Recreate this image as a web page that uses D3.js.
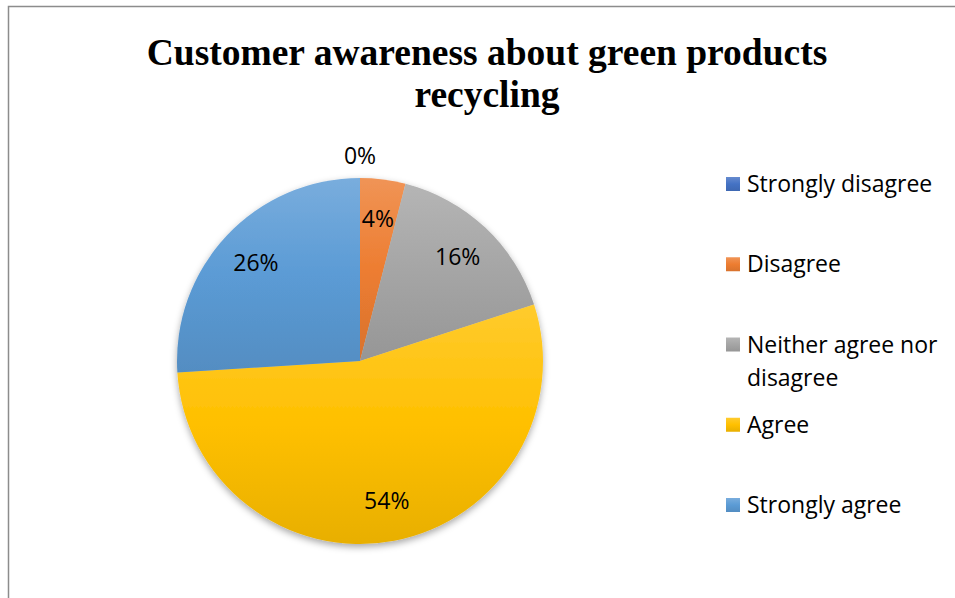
<!DOCTYPE html>
<html>
<head>
<meta charset="utf-8">
<script src="https://cdn.jsdelivr.net/npm/d3@7"></script>
<style>
  html, body { margin: 0; padding: 0; background: #fff; }
  svg { display: block; }
</style>
</head>
<body>
<svg id="chart" width="955" height="598"></svg>
<script>
// Survey answers (respondent counts) in the order they are drawn, clockwise from 12 o'clock
const categories = ["Strongly disagree", "Disagree", "Neither agree nor disagree", "Agree", "Strongly agree"];
const counts = [0, 2, 8, 27, 13];
const percentLabels = ["0%", "4%", "16%", "54%", "26%"];
const legendLines = [["Strongly disagree"], ["Disagree"], ["Neither agree nor", "disagree"], ["Agree"], ["Strongly agree"]];
const colors = ["#4472C4", "#ED7D31", "#A5A5A5", "#FFC000", "#5B9BD5"];
const titleLines = ["Customer awareness about green products", "recycling"];

const svg = d3.select("#chart");
const W = 955, H = 598;
const labelFont = "'Open Sans', 'Noto Sans', sans-serif";

// chart frame (only top and left edges fall inside the view)
svg.append("path")
  .attr("d", `M8.5,${H} V6.5 H${W}`)
  .attr("fill", "none")
  .attr("stroke", "#8c8c8c")
  .attr("stroke-width", 1.5);

// title
const title = svg.append("text")
  .attr("text-anchor", "middle")
  .attr("font-family", "'Liberation Serif', 'Times New Roman', serif")
  .attr("font-weight", "bold")
  .attr("font-size", 37.5)
  .attr("fill", "#000");
titleLines.forEach((t, i) => {
  title.append("tspan").attr("x", 487).attr("y", 65 + i * 42).text(t);
});

const defs = svg.append("defs");

// vertical gradient per series: lighter tint on top, base tone mid, deeper shade at bottom
colors.forEach((c, i) => {
  const g = defs.append("linearGradient")
    .attr("id", "grad" + i)
    .attr("x1", 0).attr("y1", 0).attr("x2", 0).attr("y2", 1);
  g.append("stop").attr("offset", "0%").attr("stop-color", d3.interpolateRgb(c, "#fff")(0.18));
  g.append("stop").attr("offset", "50%").attr("stop-color", c);
  g.append("stop").attr("offset", "100%").attr("stop-color", d3.interpolateRgb(c, "#000")(0.09));
});

const shadow = defs.append("filter")
  .attr("id", "shadow")
  .attr("x", "-10%").attr("y", "-10%").attr("width", "120%").attr("height", "125%");
shadow.append("feDropShadow")
  .attr("dx", 0).attr("dy", 3)
  .attr("stdDeviation", 3.5)
  .attr("flood-color", "#000")
  .attr("flood-opacity", 0.35);

// pie
const cx = 360, cy = 361, R = 183;
const pie = d3.pie().sort(null).value(d => d)(counts);
const arc = d3.arc().innerRadius(0).outerRadius(R);

const pieG = svg.append("g").attr("transform", `translate(${cx},${cy})`);
pieG.append("g")
  .attr("filter", "url(#shadow)")
  .selectAll("path")
  .data(pie)
  .join("path")
  .attr("d", arc)
  .attr("fill", (d, i) => `url(#grad${i})`);

// data labels: inside the slice, or just above the rim when the slice is empty
const labelArc = d3.arc().innerRadius(R * 0.78).outerRadius(R * 0.78);
const outerArc = d3.arc().innerRadius(R + 22).outerRadius(R + 22);
pieG.append("g")
  .selectAll("text")
  .data(pie)
  .join("text")
  .attr("transform", d => {
    const p = (d.endAngle - d.startAngle) === 0 ? outerArc.centroid(d) : labelArc.centroid(d);
    return `translate(${p[0]},${p[1]})`;
  })
  .attr("text-anchor", "middle")
  .attr("dy", "0.35em")
  .attr("font-family", labelFont)
  .attr("font-size", 23)
  .attr("fill", "#000")
  .text((d, i) => percentLabels[i]);

// legend
const legendY = d3.scalePoint().domain(categories).range([184, 505]);
const legend = svg.append("g");
const items = legend.selectAll("g")
  .data(categories)
  .join("g")
  .attr("transform", d => `translate(726,${legendY(d)})`);
items.append("rect")
  .attr("x", 0).attr("y", -7)
  .attr("width", 14).attr("height", 14)
  .attr("fill", (d, i) => `url(#grad${i})`);
items.append("text")
  .attr("font-family", labelFont)
  .attr("font-size", 23)
  .attr("fill", "#000")
  .each(function (d, i) {
    d3.select(this).selectAll("tspan")
      .data(legendLines[i])
      .join("tspan")
      .attr("x", 21)
      .attr("y", (t, j) => j * 33)
      .attr("dy", "0.35em")
      .text(t => t);
  });
</script>
</body>
</html>
